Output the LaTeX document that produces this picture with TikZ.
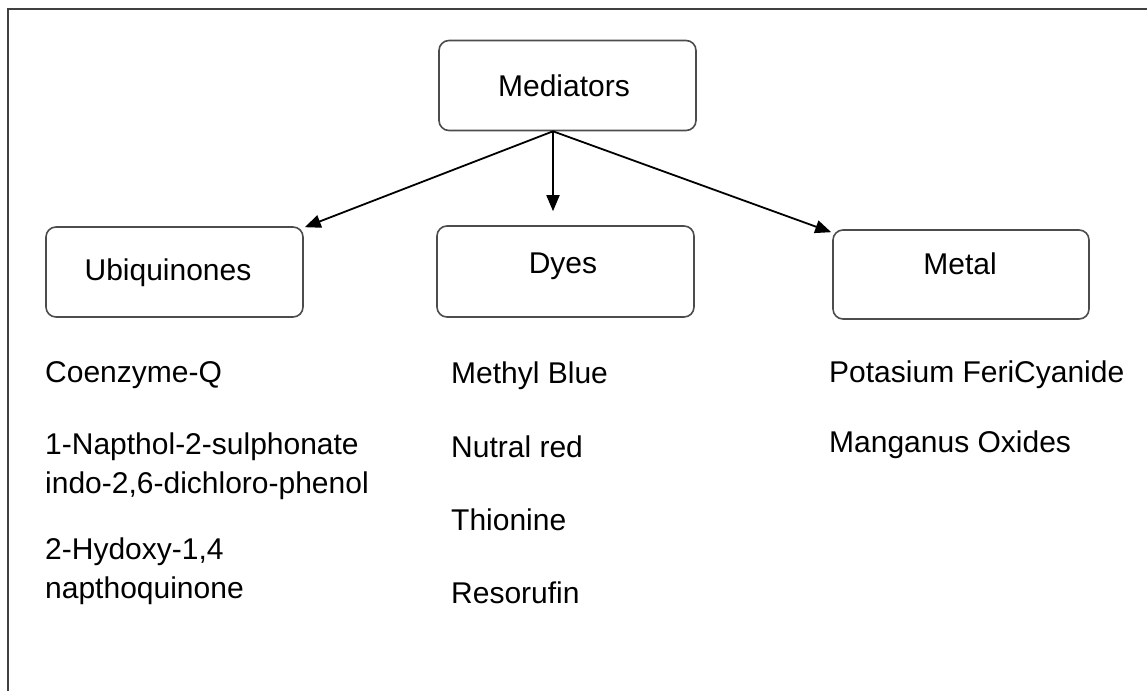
\documentclass[tikz,border=0pt]{standalone}
\usepackage{fontspec}
\setmainfont{Liberation Sans}
\usetikzlibrary{arrows.meta}
\tikzset{
  box/.style={draw=black!70, line width=1.6pt, rounded corners=10pt, inner sep=0pt},
  lbl/.style={anchor=base, inner sep=0pt, font=\fontsize{30}{39}\selectfont},
  item/.style={anchor=base west, inner sep=0pt, font=\fontsize{30}{39}\selectfont, align=left},
  arr/.style={line width=1.8pt, -{Triangle[length=16pt,width=13pt]}},
}
\begin{document}
\begin{tikzpicture}[x=1pt,y=-1pt]
\useasboundingbox (0,0) rectangle (1147,690);
\clip (0,0) rectangle (1147,690);
\draw[line width=2pt, black!75] (8,9) rectangle (1170,720);

\node[box, minimum width=257pt, minimum height=90pt] (med) at (567.5,85.5) {};
\node[box, minimum width=257pt, minimum height=90pt] (ubi) at (174.5,272) {};
\node[box, minimum width=257pt, minimum height=91pt] (dyes) at (565.5,271.5) {};
\node[box, minimum width=256pt, minimum height=89pt] (metal) at (961,274.5) {};

\node[lbl] (medt) at (564,96) {Mediators};
\node[lbl] (ubit) at (168,280) {Ubiquinones};
\node[lbl] (dyest) at (563,273) {Dyes};
\node[lbl] (metalt) at (960,274) {Metal};

\draw[arr] ([xshift=-14.5pt]med.south) -- ([xshift=1pt,yshift=-1pt]ubi.north east);
\draw[arr] ([xshift=-14.5pt]med.south) -- ([xshift=-12.5pt,yshift=14pt]dyes.north);
\draw[arr] ([xshift=-14.5pt]med.south) -- ([xshift=-1pt,yshift=-3pt]metal.north west);

\node[item] (u1) at (45,382) {Coenzyme-Q};
\node[item] (u2) at (45,493) {1-Napthol-2-sulphonate\\indo-2,6-dichloro-phenol};
\node[item] (u3) at (45,598) {2-Hydoxy-1,4\\napthoquinone};

\node[item] (d1) at (451,383) {Methyl Blue};
\node[item] (d2) at (451,457) {Nutral red};
\node[item] (d3) at (451,530) {Thionine};
\node[item] (d4) at (451,603) {Resorufin};

\node[item] (m1) at (829,382) {Potasium FeriCyanide};
\node[item] (m2) at (829,452) {Manganus Oxides};
\end{tikzpicture}
\end{document}
